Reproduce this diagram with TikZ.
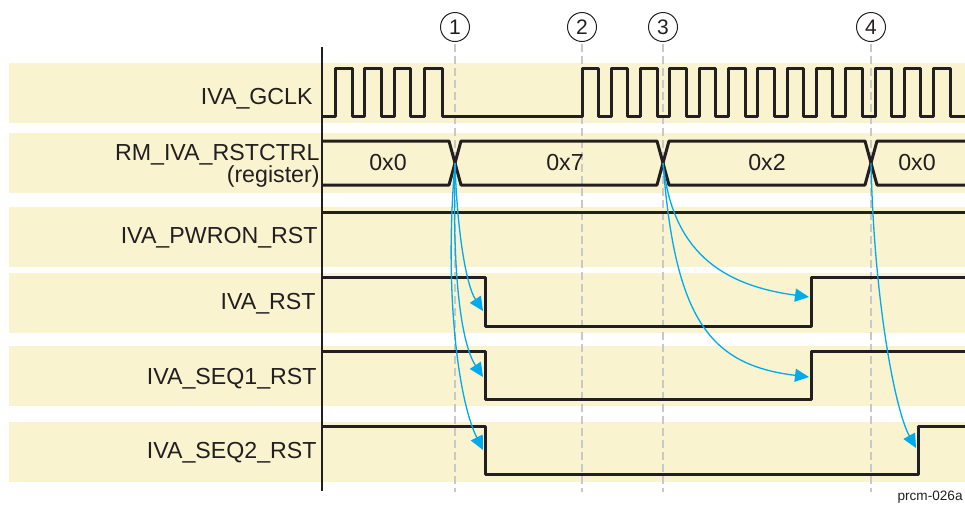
\documentclass[tikz,border=0pt]{standalone}
\usepackage{fontspec}
\setmainfont{Liberation Sans}
\usetikzlibrary{arrows.meta}
\definecolor{bandcream}{RGB}{250,243,207}
\definecolor{arrowblue}{RGB}{0,170,236}
\definecolor{guidegray}{RGB}{200,200,200}
\definecolor{inkgray}{RGB}{35,31,32}
\newcommand{\sigfont}{\fontsize{11.6pt}{13pt}\selectfont}

\begin{document}
\begin{tikzpicture}[x=0.5pt,y=-0.5pt,
  siglabel/.style={anchor=base east,font=\sigfont,text=inkgray,inner sep=0pt},
  busval/.style={font=\sigfont,text=inkgray,inner sep=0pt},
  marker/.style={draw=inkgray,circle,line width=0.5pt,minimum size=14.5pt,inner sep=0pt,font=\fontsize{10.5pt}{12pt}\selectfont,text=inkgray},
  guide/.style={guidegray,line width=0.8pt,dash pattern=on 4pt off 2pt},
  wave/.style={inkgray,line width=1.5pt,line join=round},
  cause/.style={arrowblue,line width=0.65pt,-{Triangle[length=7pt,width=6.5pt]}}]
  \useasboundingbox (0,0) rectangle (965,505);
  % lanes
  \foreach \top/\bot in {63/123,133/193,207/267,273/333,346/406,422/482}
    \fill[bandcream] (9,\top) rectangle (965,\bot);
  % event markers and guide lines
  \coordinate (floor) at (0,492);
  \foreach \n/\x in {1/455,2/582,3/663,4/871}{
    \node[marker] (m\n) at (\x,27) {\n};
    \draw[guide] ([yshift=-1pt]m\n.south) -- (m\n.south |- floor);
  }
  \draw[inkgray,line width=1pt] (322,47) -- (322,491);
  % IVA_GCLK
  \draw[wave] (322,116)
    \foreach \r/\f in {335/352,364/381,394/410,424/442}{ -- (\r,116) -- (\r,68) -- (\f,68) -- (\f,116) }
    \foreach \k in {0,...,12}{ -- ({582+29.3*\k},116) -- ({582+29.3*\k},68) -- ({598.5+29.3*\k},68) -- ({598.5+29.3*\k},116) }
    -- (965,116);
  % RM_IVA_RSTCTRL
  \draw[wave] (322,141) -- (449,141) -- (461,185) -- (657,185) -- (669,141) -- (865,141) -- (877,185) -- (965,185);
  \draw[wave] (322,185) -- (449,185) -- (461,141) -- (657,141) -- (669,185) -- (865,185) -- (877,141) -- (965,141);
  \node[busval] (v0) at (388,163) {0x0};
  \node[busval] (v7) at (565,163) {0x7};
  \node[busval] (v2) at (767,163) {0x2};
  \node[busval] (v0b) at (917,163) {0x0};
  % resets
  \draw[wave] (322,212) -- (965,212);
  \draw[wave] (322,277) -- (485,277) -- (485,326) -- (811,326) -- (811,277) -- (965,277);
  \draw[wave] (322,351) -- (485,351) -- (485,399) -- (811,399) -- (811,351) -- (965,351);
  \draw[wave] (322,426) -- (485,426) -- (485,474) -- (918,474) -- (918,426) -- (965,426);
  % cause arrows
  \coordinate (t1) at (455,163);
  \coordinate (t3) at (663,163);
  \coordinate (t4) at (871,163);
  \coordinate (r1) at (483,311);
  \coordinate (r2) at (483,377);
  \coordinate (r3) at (483,450);
  \coordinate (s1) at (809,297);
  \coordinate (s2) at (809,377);
  \coordinate (q1) at (916,448);
  \draw[cause] (t1) .. controls (457,230) and (466,285) .. (r1);
  \draw[cause] (t1) .. controls (452,280) and (462,345) .. (r2);
  \draw[cause] (t1) .. controls (444,290) and (458,400) .. (r3);
  \draw[cause] (t3) .. controls (672,250) and (720,285) .. (s1);
  \draw[cause] (t3) .. controls (675,320) and (710,365) .. (s2);
  \draw[cause] (t4) .. controls (874,300) and (895,410) .. (q1);
  % signal names
  \node[siglabel] (gclk) at (313,104) {IVA\_GCLK};
  \node[siglabel] (rstctrl) at (320,160) {RM\_IVA\_RSTCTRL};
  \node[siglabel] (rstreg) at (320,182) {(register)};
  \node[siglabel] (pwron) at (318,243) {IVA\_PWRON\_RST};
  \node[siglabel] (ivarst) at (316,309) {IVA\_RST};
  \node[siglabel] (seq1) at (317,384) {IVA\_SEQ1\_RST};
  \node[siglabel] (seq2) at (317,458) {IVA\_SEQ2\_RST};
  \node[anchor=base east,inner sep=0pt,font=\fontsize{6.8pt}{8pt}\selectfont,text=inkgray] (figid) at (963,500) {prcm-026a};
\end{tikzpicture}
\end{document}
